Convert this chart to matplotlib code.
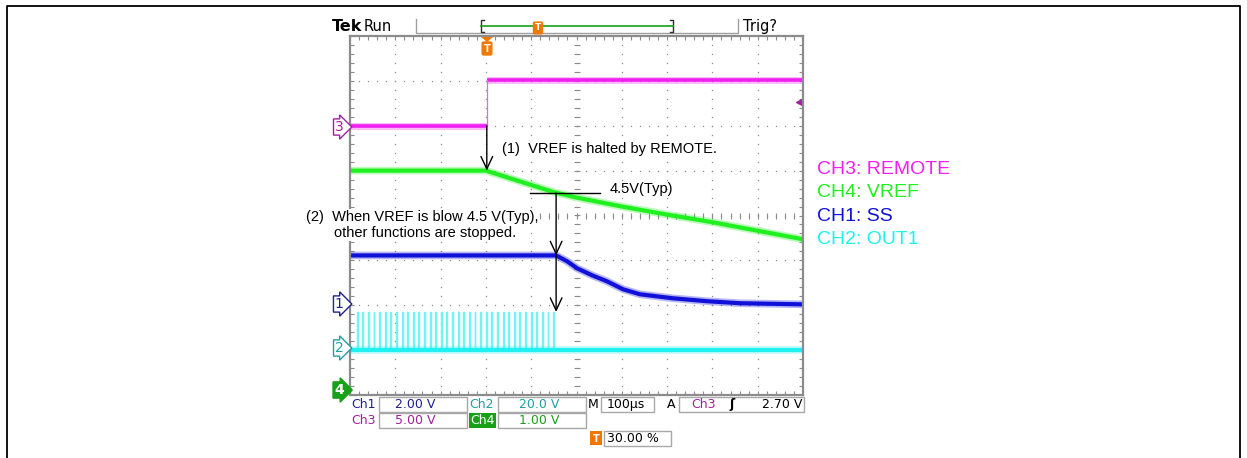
import numpy as np
import matplotlib.pyplot as plt
from matplotlib.patches import Rectangle, Polygon

# horizontal: 100 us/div, 10 div, trigger at 30 %
t_trig = 302

# CH3 REMOTE, 5 V/div
ch3_t = [0, 302, 302, 1000]
ch3_v = [0.0, 0.0, 5.1, 5.1]

# CH4 VREF, 1 V/div
ch4_t = [0, 300, 350, 400, 450, 500, 600, 700, 800, 900, 1000]
ch4_v = [5.0, 5.0, 4.84, 4.68, 4.52, 4.40, 4.20, 4.02, 3.85, 3.66, 3.47]

# CH1 SS, 2 V/div
ch1_t = [0, 455, 480, 501, 535, 567, 603, 640, 713, 788, 861, 1000]
ch1_v = [2.22, 2.22, 1.95, 1.65, 1.33, 1.07, 0.71, 0.49, 0.31, 0.18, 0.09, 0.04]

# CH2 OUT1, 20 V/div: gate pulses (start times in us), stops with SS
ch2_pulses = [15, 27, 40, 52, 64, 77, 89, 102, 114, 126, 139, 151, 163, 176, 188,
              201, 213, 225, 238, 250, 262, 275, 287, 300, 312, 324, 337, 349, 362,
              374, 386, 399, 411, 423, 436, 448]
ch2_high = 17.0
ch2_width = 2.0

v_stop = 4.5      # VREF threshold
trig_level = 2.70 # Ch3

# volts per division and ground position (div from centre)
scale = {"ch1": 2.0, "ch2": 20.0, "ch3": 5.0, "ch4": 1.0}
pos = {"ch1": -2, "ch2": -3, "ch3": 2, "ch4": -4}

col = {"ch1": "#1010d8", "ch2": "#20f0f0", "ch3": "#f020f0", "ch4": "#20f020"}
ui_col = {"ch1": "#202090", "ch2": "#20a0a0", "ch3": "#a020a0", "ch4": "#18a018"}
orange = "#f07800"
gray = "#8c8c8c"
ann_font = "Liberation Sans"
ui_font = "DejaVu Sans"


def div(v, ch):
    return np.asarray(v, dtype=float) / scale[ch] + pos[ch]


W, H = 1247, 458
fig = plt.figure(figsize=(W / 100, H / 100), dpi=100)

# scope screen
ax = fig.add_axes([350 / W, 1 - 395 / H, 453 / W, 359 / H], zorder=2)
ax.set_xlim(0, 1000)
ax.set_ylim(-4, 4)
for s in ax.spines.values():
    s.set_color(gray)
    s.set_linewidth(1.6)
ax.set_xticks(np.arange(0, 1001, 100))
ax.set_xticks(np.arange(0, 1001, 20), minor=True)
ax.set_yticks(np.arange(-4, 4.01, 1))
ax.set_yticks(np.arange(-4, 4.01, 0.2), minor=True)
ax.tick_params(which="both", direction="in", length=3, width=0.8, color=gray,
               top=True, right=True, labelbottom=False, labelleft=False)

# dotted graticule
minor_t = np.arange(0, 1001, 20)
minor_d = np.arange(-4, 4.01, 0.2)
for xv in range(100, 1000, 100):
    ax.plot(np.full_like(minor_d, xv), minor_d, ls="none", marker="s", ms=0.9,
            mew=0, color=gray)
for yv in range(-3, 4):
    ax.plot(minor_t, np.full_like(minor_t, yv, dtype=float), ls="none", marker="s",
            ms=0.9, mew=0, color=gray)
ax.plot(np.full_like(minor_d, 500), minor_d, ls="none", marker="_", ms=4, mew=0.8, color=gray)
ax.plot(minor_t, np.zeros_like(minor_t, dtype=float), ls="none", marker="|", ms=4,
        mew=0.8, color=gray)


def trace(t, v, ch, lw=3.0):
    y = div(v, ch)
    ax.plot(t, y, color=col[ch], lw=lw + 2.5, alpha=0.3, solid_capstyle="butt")
    ax.plot(t, y, color=col[ch], lw=lw, solid_capstyle="butt")


# CH2 pulses + baseline
px, py = [], []
for p in ch2_pulses:
    px += [p, p, p + ch2_width, p + ch2_width, np.nan]
    py += [0, ch2_high, ch2_high, 0, np.nan]
ax.plot(px, div(py, "ch2"), color="#70f4f4", lw=1.0)
trace([0, 1000], [0, 0], "ch2")

trace(ch1_t, ch1_v, "ch1")
trace(ch4_t, ch4_v, "ch4")
trace(ch3_t[:2], ch3_v[:2], "ch3", lw=2.6)
trace(ch3_t[2:], ch3_v[2:], "ch3", lw=2.6)
ax.plot(ch3_t[1:3], div(ch3_v[1:3], "ch3"), color="#f060f0", lw=0.9)

# trigger level marker on the right edge
ax.plot([993], div([trig_level], "ch3"), marker="<", ms=6, color=ui_col["ch3"])
ax.plot([993, 1000], div([trig_level] * 2, "ch3"), color=ui_col["ch3"], lw=1.5)

# 4.5 V reference line
t_cross = 455
ax.plot([397, 552], div([v_stop] * 2, "ch4"), color="black", lw=1.0)

# overlay in pixel coordinates
ov = fig.add_axes([0, 0, 1, 1], zorder=5)
ov.set_xlim(0, W)
ov.set_ylim(H, 0)
ov.axis("off")
ov.patch.set_alpha(0)

# outer frame
ov.plot([7, 7, 1240, 1240], [H, 6, 6, H], color="black", lw=1.3)

arrow = dict(arrowstyle="->,head_length=0.9,head_width=0.42", color="black", lw=1.0,
             shrinkA=0, shrinkB=0)
ov.annotate("", xy=(t_trig, div(ch4_v[0], "ch4")), xytext=(t_trig, div(ch3_v[0], "ch3")),
            xycoords=ax.transData, textcoords=ax.transData, arrowprops=arrow)
ov.annotate("", xy=(t_cross, div(ch1_v[0], "ch1")), xytext=(t_cross, div(v_stop, "ch4")),
            xycoords=ax.transData, textcoords=ax.transData, arrowprops=arrow)
ov.annotate("", xy=(t_cross, div(ch2_high, "ch2")), xytext=(t_cross, div(ch1_v[0], "ch1")),
            xycoords=ax.transData, textcoords=ax.transData, arrowprops=arrow)

wbox = dict(fc="white", ec="none", pad=0.5)
ov.text(502, 153, "(1)  VREF is halted by REMOTE.", fontsize=10.5, family=ann_font,
        va="baseline", bbox=wbox)
ov.text(610, 193, "4.5V(Typ)", fontsize=10.5, family=ann_font, va="baseline")
ov.text(306, 221, "(2)  When VREF is blow 4.5 V(Typ),", fontsize=10.5, family=ann_font,
        va="baseline", bbox=wbox)
ov.text(334, 237, "other functions are stopped.", fontsize=10.5, family=ann_font,
        va="baseline", bbox=wbox)

# legend
legend = [("CH3: REMOTE", "ch3"), ("CH4: VREF", "ch4"), ("CH1: SS", "ch1"), ("CH2: OUT1", "ch2")]
for i, (lab, ch) in enumerate(legend):
    ov.text(817, 169.5 + i * 23.3, lab, fontsize=14, family=ann_font, color=col[ch], va="center")

# channel ground markers at the left
for ch, y in [("ch3", 127), ("ch1", 304), ("ch2", 348)]:
    ov.text(339, y, ch[-1], fontsize=10, family=ui_font, color=ui_col[ch], ha="center",
            va="center", bbox=dict(boxstyle="rarrow,pad=0.08", fc="white", ec=ui_col[ch], lw=1))
ov.text(339, 390, "4", fontsize=10, family=ui_font, color="white", weight="bold", ha="center",
        va="center", bbox=dict(boxstyle="rarrow,pad=0.08", fc=ui_col["ch4"], ec=ui_col["ch4"], lw=1))

# header
ov.text(332, 31, "Tek", fontsize=11.5, family=ui_font, weight="bold", va="baseline")
ov.text(364, 31, "Run", fontsize=10.5, family=ui_font, va="baseline")
ov.text(743, 31, "Trig?", fontsize=10.5, family=ui_font, va="baseline")
ov.plot([416, 416, 738, 738], [19, 33, 33, 19], color="#a0a0a0", lw=1.0)
ov.plot([484, 481, 481, 484], [20, 20, 32, 32], color="#303030", lw=1.0)
ov.plot([670, 673, 673, 670], [20, 20, 32, 32], color="#303030", lw=1.0)
ov.plot([481, 673], [26, 26], color="#18a018", lw=1.2)
ov.text(538, 28, "T", fontsize=6.5, family=ui_font, color="white", weight="bold", ha="center",
        va="center", bbox=dict(boxstyle="round,pad=0.15", fc=orange, ec=orange))
ov.add_patch(Polygon([[481, 37], [493, 37], [487, 42]], closed=True, fc=orange, ec="none"))
ov.text(487, 48.5, "T", fontsize=7, family=ui_font, color="white", weight="bold", ha="center",
        va="center", bbox=dict(boxstyle="round,pad=0.15", fc=orange, ec=orange))

# status bar
bc = "#a8a8a8"
for x0, y0, w, h in [(379, 397, 88, 15), (498, 397, 88, 15), (601, 397, 53, 15),
                     (679, 397, 125, 15), (379, 413, 88, 15), (498, 413, 88, 15),
                     (604, 431, 67, 15)]:
    ov.add_patch(Rectangle((x0, y0), w, h, fc="none", ec=bc, lw=1))
ov.add_patch(Rectangle((469, 413), 27, 15, fc=ui_col["ch4"], ec="none"))
ov.add_patch(Rectangle((590, 431), 12, 14, fc=orange, ec="none"))

fs = 9
r1, r2, r3 = 404.5, 420.5, 438.5
ov.text(351, r1, "Ch1", fontsize=fs, family=ui_font, color=ui_col["ch1"], va="center")
ov.text(395, r1, "2.00 V", fontsize=fs, family=ui_font, color=ui_col["ch1"], va="center")
ov.text(469, r1, "Ch2", fontsize=fs, family=ui_font, color=ui_col["ch2"], va="center")
ov.text(519, r1, "20.0 V", fontsize=fs, family=ui_font, color=ui_col["ch2"], va="center")
ov.text(588, r1, "M", fontsize=fs, family=ui_font, va="center")
ov.text(607, r1, "100\u00b5s", fontsize=fs, family=ui_font, va="center")
ov.text(667, r1, "A", fontsize=fs, family=ui_font, va="center")
ov.text(691, r1, "Ch3", fontsize=fs, family=ui_font, color=ui_col["ch3"], va="center")
ov.text(729, r1, "\u0283", fontsize=fs, family=ui_font, weight="bold", va="center")
ov.text(802, r1, "2.70 V", fontsize=fs, family=ui_font, va="center", ha="right")
ov.text(351, r2, "Ch3", fontsize=fs, family=ui_font, color=ui_col["ch3"], va="center")
ov.text(395, r2, "5.00 V", fontsize=fs, family=ui_font, color=ui_col["ch3"], va="center")
ov.text(470, r2, "Ch4", fontsize=fs, family=ui_font, color="white", va="center")
ov.text(519, r2, "1.00 V", fontsize=fs, family=ui_font, color=ui_col["ch4"], va="center")
ov.text(596, r3, "T", fontsize=7, family=ui_font, color="white", weight="bold", ha="center",
        va="center")
ov.text(607, r3, "30.00 %", fontsize=fs, family=ui_font, va="center")

fig.savefig("out.png", dpi=100)
